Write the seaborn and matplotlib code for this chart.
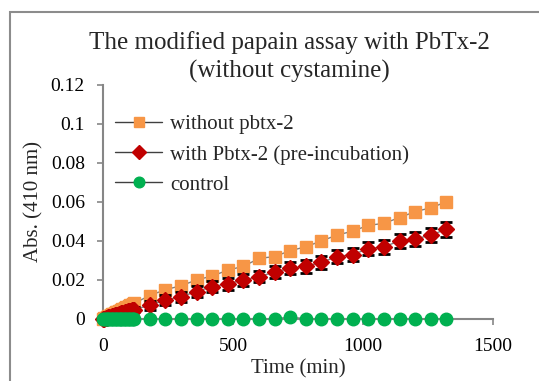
import numpy as np
import pandas as pd
import matplotlib
matplotlib.use("Agg")
import matplotlib.pyplot as plt
from matplotlib.lines import Line2D
from matplotlib.patches import Rectangle
import seaborn as sns

# ---- data ----
time_min = [0, 5, 10, 15, 20, 25, 30, 35, 40, 45, 50, 55, 60, 65, 70, 75, 80, 85, 90,
            95, 100, 105, 110, 115, 120,
            180, 240, 300, 360, 420, 480, 540, 600, 660, 720, 780, 840, 900, 960,
            1020, 1080, 1140, 1200, 1260, 1320]

without_pbtx2 = [0.0, 0.0003, 0.0007, 0.001, 0.0013, 0.0017, 0.002, 0.0023, 0.0027, 0.003,
                 0.0033, 0.0037, 0.004, 0.0043, 0.0047, 0.005, 0.0053, 0.0057, 0.006,
                 0.0063, 0.0067, 0.007, 0.0073, 0.0077, 0.008,
                 0.012, 0.015, 0.017, 0.020, 0.022, 0.025, 0.027, 0.031, 0.032, 0.035,
                 0.037, 0.040, 0.043, 0.045, 0.048, 0.049, 0.052, 0.055, 0.057, 0.060]

with_pbtx2 = [0.0, 0.0002, 0.0004, 0.0006, 0.0008, 0.001, 0.0012, 0.0014, 0.0016, 0.0018,
              0.002, 0.0022, 0.0024, 0.0026, 0.0028, 0.003, 0.0032, 0.0034, 0.0036,
              0.0038, 0.004, 0.0042, 0.0044, 0.0046, 0.0048,
              0.007, 0.0097, 0.0114, 0.014, 0.0166, 0.018, 0.020, 0.0217, 0.024, 0.026,
              0.027, 0.029, 0.032, 0.033, 0.036, 0.037, 0.040, 0.041, 0.043, 0.046]

with_pbtx2_err = [0.0, 0.0003, 0.0003, 0.0004, 0.0004, 0.0005, 0.0005, 0.0006, 0.0006, 0.0007,
                  0.0007, 0.0008, 0.0008, 0.0009, 0.0009, 0.001, 0.001, 0.0011, 0.0011,
                  0.0012, 0.0012, 0.0013, 0.0013, 0.0014, 0.0014,
                  0.0022, 0.0025, 0.0025, 0.0027, 0.0028, 0.003, 0.003, 0.003, 0.003, 0.003,
                  0.0032, 0.0032, 0.0033, 0.0033, 0.0034, 0.0035, 0.0035, 0.0036, 0.0037, 0.0038]

control = [0.0] * 25 + [0.0, 0.0, 0.0, 0.0, 0.0, 0.0, 0.0, 0.0, 0.0, 0.001,
                        0.0, 0.0, 0.0, 0.0, 0.0, 0.0, 0.0, 0.0, 0.0, 0.0]

series_names = ["without pbtx-2", "with Pbtx-2 (pre-incubation)", "control"]
title_text = "The modified papain assay with PbTx-2\n(without cystamine)"
x_ticks = [0, 500, 1000, 1500]
y_ticks = [0, 0.02, 0.04, 0.06, 0.08, 0.1, 0.12]
y_tick_labels = ["0", "0.02", "0.04", "0.06", "0.08", "0.1", "0.12"]

df = pd.DataFrame({
    "time": time_min * 3,
    "abs": without_pbtx2 + with_pbtx2 + control,
    "series": [series_names[0]] * len(time_min) + [series_names[1]] * len(time_min)
              + [series_names[2]] * len(time_min),
})

# ---- style ----
sns.set_style("white")
plt.rcParams["font.family"] = ["Liberation Serif", "DejaVu Serif"]

colors = {series_names[0]: "#F79646", series_names[1]: "#C00000", series_names[2]: "#00B050"}
markers = {series_names[0]: "s", series_names[1]: "D", series_names[2]: "o"}
msizes = {series_names[0]: 8.0, series_names[1]: 8.0, series_names[2]: 9.0}

fig = plt.figure(figsize=(5.39, 3.81), dpi=100)
ax = fig.add_axes([0.191, 0.163, 0.724, 0.614])

line_gray = "#7F7F7F"
for i, name in enumerate(series_names):
    sub = df[df["series"] == name]
    sns.lineplot(data=sub, x="time", y="abs", ax=ax, color=line_gray, linewidth=1.0,
                 zorder=2 + 3 * i, legend=False, errorbar=None, sort=False)
    if name == series_names[1]:
        ax.errorbar(time_min, with_pbtx2, yerr=with_pbtx2_err, fmt="none", ecolor="black",
                    elinewidth=1.2, capsize=4, capthick=2, zorder=3 + 3 * i)
    ax.plot(sub["time"], sub["abs"], linestyle="none", marker=markers[name],
            markersize=msizes[name], markerfacecolor=colors[name],
            markeredgecolor=colors[name], zorder=4 + 3 * i)

ax.set_xlim(0, 1500)
ax.set_ylim(0, 0.12)
ax.set_xticks(x_ticks)
ax.set_xticklabels([str(t) for t in x_ticks])
ax.set_yticks(y_ticks)
ax.set_yticklabels(y_tick_labels)
ax.set_xlabel("Time (min)", fontsize=15, labelpad=3)
ax.set_ylabel("Abs. (410 nm)", fontsize=15, labelpad=5)

fig.text(289 / 539, 1 - 57 / 381, title_text, fontsize=18, ha="center", va="center",
         multialignment="center", linespacing=1.28)

spine_col = "#868686"
for s in ["top", "right"]:
    ax.spines[s].set_visible(False)
for s in ["left", "bottom"]:
    ax.spines[s].set_color(spine_col)
    ax.spines[s].set_linewidth(1.5)
ax.tick_params(axis="both", direction="out", length=4, width=1.2, color=spine_col,
               labelsize=14, labelcolor="black", bottom=True, left=True)
ax.tick_params(axis="y", pad=9)
ax.tick_params(axis="x", pad=10)
for art in ax.lines:
    art.set_clip_on(False)
for coll in ax.collections:
    coll.set_clip_on(False)

handles = [Line2D([0], [0], color="#404040", linewidth=1.0, marker=markers[n],
                  markersize=msizes[n] * 0.85, markerfacecolor=colors[n],
                  markeredgecolor=colors[n]) for n in series_names]
ax.legend(handles, series_names, loc="upper left", bbox_to_anchor=(0.031, 0.872),
          frameon=False, fontsize=15, handlelength=2.26, handletextpad=0.38,
          labelspacing=0.5, borderaxespad=0.0, borderpad=0.0)

# outer chart frame (cropped Excel chart area)
fig.patches.append(Rectangle((10 / 539, -0.1), 1.2, 1 - 12 / 381 + 0.1,
                             transform=fig.transFigure, fill=False,
                             edgecolor="#8C8C8C", linewidth=1.5))

fig.savefig("out.png", dpi=100)
